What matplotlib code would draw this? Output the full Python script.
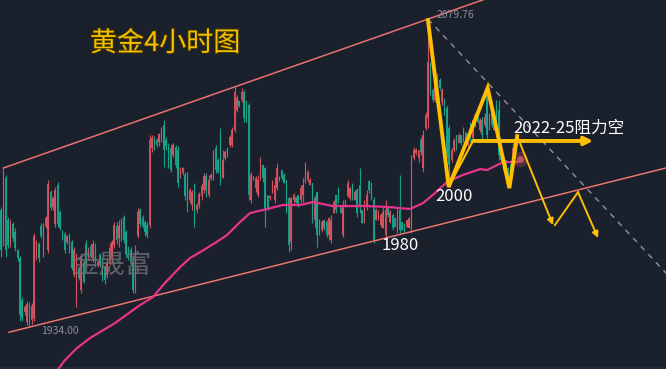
import numpy as np
import matplotlib.pyplot as plt
from matplotlib import patheffects as pe

plt.rcParams['font.family'] = ['Noto Sans CJK SC', 'DejaVu Sans']

# 4h gold candles (open / close / high / low)
opens = [
    1989.4, 1975.2, 2004.6, 1984.7, 1973.8, 1982.8, 1979.0, 1970.5, 1966.7, 1946.8,
    1941.1, 1936.4, 1944.4, 1937.3, 1938.3, 1967.6, 1973.3, 1981.8, 1968.6, 1981.8,
    1970.5, 1997.9, 1990.8, 1982.8, 2001.2, 1988.5, 1979.5, 1978.0, 1974.3, 1977.1,
    1974.3, 1958.6, 1946.8, 1962.0, 1951.5, 1964.8, 1973.3, 1966.7, 1972.4, 1965.7,
    1972.8, 1962.9, 1968.1,
    1965.7, 1962.4, 1958.6, 1964.8, 1966.7, 1972.8, 1981.8, 1976.2, 1983.7, 1986.1,
    1979.0, 1971.4, 1970.5, 1964.8, 1953.9, 1977.1, 1989.4, 1985.6, 1983.7, 1982.3,
    1982.3, 2018.8, 2023.5, 2022.5, 2021.6, 2023.5, 2029.6, 2022.5, 2020.2, 2018.8,
    2015.4, 2019.2, 2017.8, 2006.0, 2006.9, 2006.0, 2004.6, 1994.1, 1991.8, 1999.8,
    1989.4, 1991.8, 1996.0, 1998.9, 2005.5,
    1996.5, 2004.6, 2004.6, 2018.8, 2013.1, 2024.9, 2004.6, 2014.0, 2018.8, 2020.2,
    2020.2, 2027.3, 2036.7, 2041.0, 2041.5, 2045.3, 2040.5, 2039.1, 1994.1, 2004.6,
    1999.8, 1996.5, 2006.0, 2010.7, 2009.3, 1996.5, 1995.1, 1997.9, 1994.1, 1999.8,
    2003.6, 2008.3, 2006.0, 2003.6, 1995.1, 1974.3, 1994.1, 1995.6, 1996.5, 1994.1,
    1996.5, 2003.6, 2003.6, 2001.2, 2002.2, 1984.7, 1997.9, 1984.7,
    1979.9, 1984.7, 1983.7, 1977.6, 1975.2, 1988.0, 1996.5, 1999.8, 1990.8, 1977.6,
    1991.3, 1996.0, 1995.1, 2001.2, 1994.1, 1998.9, 2001.2, 1989.4, 1983.3, 1991.8,
    2003.1, 2002.2, 1994.1, 1984.7, 1984.7, 1982.3, 1980.9, 1977.6, 1990.4, 1983.7,
    1987.0, 1985.6, 1979.9, 1989.4, 1983.7, 1982.3, 1981.4, 1980.9, 1980.9, 2014.0,
    2016.4, 2014.0, 2022.5, 2009.3, 2028.2,
    2033.0, 2058.0, 2046.2, 2041.5, 2051.9, 2050.9, 2040.5, 2041.5, 2037.7, 2028.2,
    2013.1, 2017.8, 2024.9, 2021.1, 2024.9, 2022.5, 2026.3, 2020.2, 2029.6, 2023.5,
    2029.6, 2035.8, 2027.3, 2032.0, 2029.6, 2045.3, 2027.3, 2036.7, 2027.3, 2039.1,
    2036.7, 2020.2, 2013.1, 2013.1, 2009.3, 2010.7, 2009.3, 2015.4,
]
closes = [
    1970.5, 2007.4, 1970.5, 1972.8, 1983.7, 1976.2, 1971.4, 1966.7, 1939.7, 1938.3,
    1943.5, 1944.9, 1936.4, 1944.0, 1977.1, 1974.3, 1966.7, 1977.1, 1981.8, 1985.6,
    2001.7, 1990.4, 1995.1, 1998.9, 1982.8, 1980.9, 1976.2, 1970.5, 1977.1, 1970.0,
    1962.0, 1970.5, 1966.7, 1957.2, 1967.6, 1955.3, 1964.3, 1971.4, 1967.6, 1973.3,
    1964.3, 1964.8, 1963.4,
    1957.2, 1956.3, 1964.8, 1971.4, 1974.3, 1982.3, 1975.2, 1981.8, 1976.2, 1975.2,
    1968.6, 1966.7, 1964.8, 1951.5, 1970.5, 1988.5, 1982.8, 1981.8, 1979.0, 1977.6,
    2022.5, 2023.5, 2019.7, 2020.2, 2025.4, 2027.3, 2017.8, 2019.7, 2013.1, 2008.3,
    2020.2, 2010.7, 2002.2, 2009.3, 2009.3, 1996.0, 1990.4, 1998.9, 1997.9, 1983.7,
    1991.8, 1997.0, 2000.8, 2005.5, 1998.9,
    2003.6, 2006.0, 2015.4, 2008.3, 2007.4, 2003.6, 2013.1, 2016.9, 2015.4, 2024.0,
    2027.3, 2045.3, 2042.4, 2038.6, 2045.3, 2033.0, 2032.0, 1996.5, 2006.0, 2005.5,
    2004.6, 2003.6, 2013.1, 2004.6, 1989.4, 1990.4, 1996.0, 2002.7, 2001.2, 2009.3,
    2005.0, 2004.6, 2002.2, 1989.4, 1972.8, 1995.1, 1996.5, 1993.2, 1991.8, 1999.8,
    2001.2, 2009.3, 2007.4, 2003.6, 1987.0, 1995.1, 1977.6, 1978.5,
    1983.7, 1980.9, 1977.6, 1985.6, 1984.7, 1993.2, 1989.4, 1994.1, 1988.0, 1991.8,
    1994.1, 2002.2, 1999.8, 1995.1, 1997.9, 1988.0, 1991.8, 1983.3, 1991.8, 1996.5,
    1998.9, 1995.1, 1975.2, 1989.4, 1988.5, 1987.0, 1988.5, 1989.4, 1987.0, 1988.5,
    1980.9, 1981.4, 1988.5, 1979.9, 1979.9, 1979.0, 1984.7, 1985.6, 2014.0, 2017.8,
    2017.8, 2017.8, 2016.9, 2024.9, 2034.4,
    2059.5, 2045.3, 2041.5, 2048.6, 2043.8, 2047.1, 2046.2, 2035.8, 2015.4, 2010.7,
    2017.8, 2022.5, 2018.8, 2024.9, 2021.1, 2027.3, 2022.5, 2023.5, 2023.5, 2032.0,
    2034.4, 2031.1, 2032.0, 2024.9, 2033.4, 2024.9, 2033.0, 2029.6, 2034.4, 2027.3,
    2015.4, 2013.1, 2009.3, 2006.9, 2004.6, 2006.0, 2018.8, 2020.2,
]
highs = [
    1990.8, 2009.3, 2006.0, 1986.1, 1985.1, 1983.7, 1980.9, 1970.9, 1967.6, 1948.2,
    1944.4, 1946.3, 1945.9, 1945.4, 1978.5, 1975.2, 1974.3, 1983.3, 1983.3, 1986.6,
    2003.6, 1998.9, 1996.0, 2000.3, 2002.7, 1989.4, 1979.9, 1979.0, 1977.6, 1978.5,
    1975.2, 1971.9, 1969.1, 1962.4, 1969.1, 1965.7, 1975.2, 1971.9, 1973.8, 1975.2,
    1973.8, 1965.7, 1969.1,
    1966.7, 1963.4, 1966.7, 1973.8, 1975.2, 1983.7, 1983.7, 1984.7, 1985.6, 1987.0,
    1979.9, 1972.4, 1971.9, 1968.1, 1972.8, 1990.4, 1990.4, 1987.0, 1984.7, 1983.7,
    2024.9, 2024.9, 2024.4, 2023.5, 2025.9, 2028.7, 2032.0, 2024.0, 2021.1, 2020.6,
    2021.1, 2020.2, 2019.7, 2009.8, 2009.8, 2007.4, 2007.4, 1999.8, 1998.9, 2002.2,
    1992.7, 1997.9, 2002.2, 2006.9, 2006.9,
    2006.0, 2006.9, 2017.8, 2020.2, 2014.0, 2028.2, 2017.8, 2017.8, 2019.2, 2024.9,
    2028.7, 2047.6, 2043.8, 2041.5, 2047.1, 2046.2, 2041.5, 2040.1, 2007.4, 2005.5,
    2005.5, 2006.0, 2014.5, 2010.7, 2009.8, 1996.5, 1996.5, 2003.6, 2005.0, 2011.7,
    2005.5, 2008.3, 2006.9, 2003.6, 1995.6, 1995.6, 1997.5, 1995.6, 1996.5, 2001.2,
    2004.6, 2012.1, 2008.3, 2004.6, 2002.2, 1996.5, 1997.9, 1985.1,
    1984.7, 1984.7, 1984.7, 1986.1, 1987.0, 1994.1, 1996.5, 2000.3, 1990.8, 1994.1,
    1994.1, 2003.6, 2000.3, 2002.2, 1998.9, 1999.8, 2009.3, 1989.4, 1994.1, 1998.9,
    2003.6, 2002.7, 1995.6, 1990.4, 1989.4, 1988.0, 1990.8, 1994.1, 1990.4, 1989.4,
    1988.0, 1986.1, 1990.4, 2006.0, 1983.7, 1983.3, 1984.7, 1986.1, 2015.4, 2019.2,
    2018.8, 2017.8, 2024.0, 2027.3, 2035.8,
    2079.76, 2059.5, 2047.1, 2050.0, 2054.2, 2051.9, 2047.1, 2042.4, 2039.1, 2029.6,
    2018.8, 2023.5, 2024.9, 2025.9, 2024.9, 2028.7, 2026.3, 2024.0, 2031.1, 2033.0,
    2035.3, 2036.7, 2033.0, 2033.4, 2035.3, 2047.6, 2035.3, 2038.2, 2036.7, 2041.5,
    2041.5, 2021.1, 2013.1, 2013.1, 2009.8, 2011.7, 2021.1, 2021.1,
]
lows = [
    1967.2, 1972.4, 1967.2, 1971.4, 1971.9, 1974.7, 1970.0, 1965.3, 1936.9, 1936.9,
    1939.7, 1935.0, 1934.0, 1935.5, 1936.9, 1965.7, 1964.8, 1976.2, 1967.2, 1980.9,
    1969.1, 1989.4, 1989.4, 1981.4, 1981.4, 1979.9, 1975.2, 1969.1, 1973.3, 1969.1,
    1961.0, 1957.7, 1943.5, 1956.3, 1950.1, 1954.9, 1962.4, 1965.7, 1967.2, 1964.8,
    1962.4, 1962.4, 1962.4,
    1955.8, 1954.4, 1957.2, 1963.4, 1964.3, 1971.4, 1973.3, 1971.9, 1974.7, 1973.8,
    1967.2, 1965.7, 1963.4, 1950.1, 1950.1, 1976.2, 1981.4, 1980.9, 1977.1, 1976.2,
    1980.9, 2016.9, 2017.8, 2019.2, 2019.7, 2021.6, 2009.8, 2017.8, 2009.3, 2007.4,
    2014.5, 2009.3, 2000.3, 2004.6, 2006.0, 1994.1, 1988.5, 1992.7, 1989.4, 1981.4,
    1988.0, 1990.4, 1994.1, 1997.5, 1995.6,
    1995.6, 2003.6, 2003.6, 2006.9, 2006.9, 2001.2, 2004.6, 2013.1, 2014.5, 2019.2,
    2019.2, 2026.3, 2035.8, 2038.2, 2040.5, 2031.1, 2031.1, 1994.1, 1992.7, 2003.6,
    1997.9, 1995.6, 2003.6, 2002.7, 1981.4, 1989.4, 1994.1, 1997.5, 1992.7, 1998.9,
    2003.1, 2003.6, 2002.2, 1988.0, 1969.5, 1970.5, 1992.7, 1992.7, 1990.8, 1992.7,
    1993.2, 2002.2, 2002.7, 2001.2, 1983.3, 1981.4, 1971.9, 1977.6,
    1979.0, 1979.9, 1976.6, 1975.2, 1973.8, 1988.0, 1988.0, 1992.7, 1988.0, 1976.6,
    1990.8, 1995.6, 1994.1, 1994.1, 1994.1, 1986.1, 1988.0, 1983.3, 1983.3, 1989.4,
    1997.5, 1994.1, 1973.8, 1984.7, 1984.7, 1981.4, 1980.9, 1976.6, 1986.1, 1983.3,
    1979.9, 1981.4, 1978.5, 1978.5, 1979.9, 1979.0, 1981.4, 1980.9, 1978.5, 2013.1,
    2015.4, 2012.1, 2015.4, 2007.4, 2027.3,
    2028.2, 2043.8, 2040.5, 2040.5, 2042.4, 2046.2, 2039.1, 2034.4, 2014.0, 2004.6,
    2012.1, 2016.9, 2017.8, 2021.1, 2020.2, 2021.6, 2021.6, 2019.2, 2021.6, 2022.5,
    2028.7, 2030.6, 2026.3, 2022.5, 2028.7, 2022.5, 2027.3, 2028.7, 2027.3, 2024.0,
    2013.1, 2011.7, 2008.3, 2006.0, 2003.6, 2005.0, 2008.3, 2014.5,
]

# moving average line, vertices (bar index, price)
ma_idx = [23.3, 27.1, 32.2, 37.7, 42.0, 48.3, 56.0, 58.9, 64.4, 69.5, 75.9, 80.1,
          84.4, 90.7, 95.8, 101.3, 105.6, 112.8, 119.5, 126.8, 132.3, 140.7, 154.7,
          164.9, 173.4, 178.9, 184.0, 189.1, 195.8, 203.1, 206.0, 212.8, 218.7]
ma_val = [1912.7, 1918.4, 1924.1, 1928.8, 1931.7, 1935.9, 1942.1, 1944.4, 1948.2,
          1954.9, 1962.4, 1966.7, 1969.5, 1973.8, 1977.6, 1983.7, 1988.0, 1989.9,
          1991.8, 1991.8, 1993.2, 1991.3, 1991.3, 1990.8, 1989.9, 1992.7, 1997.5,
          2002.7, 2006.0, 2008.8, 2008.3, 2012.1, 2012.1]

# hand drawn analysis (bar index, price)
zig_idx = [181, 189.8, 206.3, 215.5, 218.8]
zig_val = [2079.3, 2000.3, 2047.2, 1999.8, 2024.4]
down_idx = [218.8, 234.0]
down_val = [2024.4, 1982.3]
bounce_idx = [234.8, 244.6, 253.1]
bounce_val = [1982.3, 1997.9, 1976.2]
resist = 2022.1

BG = '#1b202d'
RED = '#dc5560'
GREEN = '#17a98f'
YEL = '#ffbe00'

o = np.array(opens); c = np.array(closes)
h = np.array(highs); l = np.array(lows)
x = np.arange(len(c))
col = np.where(c >= o, RED, GREEN)

fig = plt.figure(figsize=(6.66, 3.69), dpi=100)
fig.patch.set_facecolor(BG)
ax = fig.add_axes([0, 0, 1, 1])
ax.set_facecolor(BG)
ax.set_xlim(-0.42, 281.9)
ax.set_ylim(1914.2, 2088.8)
ax.axis('off')
ax.axhspan(1914.2, 1915.3, color='#232936', lw=0, zorder=1)

ax.text(30.1, 1963.1, '金晟富', fontsize=19, color='#6a6d72', alpha=0.85,
        va='center', ha='left', zorder=5)

ax.vlines(x, l, h, colors=col, linewidth=0.85, alpha=0.9, zorder=2)
body = np.maximum(np.abs(c - o), 0.4)
ax.bar(x, body, bottom=np.minimum(o, c), width=0.65, color=col,
       linewidth=0, alpha=0.9, zorder=3)


def ray(x1, y1, x2, y2, x_end):
    k = (y2 - y1) / (x2 - x1)
    return [x1, x_end], [y1, y1 + k * (x_end - x1)]


# channel
ux, uy = ray(1, h[1], 181, h[181], 282)
ax.plot(ux, uy, color='#e8736e', lw=1.1, zorder=4)
lx, ly = ray(3.4, l[12] - 0.2791 * 8.6, 12, l[12], 282)
ax.plot(lx, ly, color='#e8736e', lw=1.1, zorder=4)
dx, dy = ray(181, h[181], 281, h[181] - 119.1, 282)
ax.plot(dx, dy, color='#8e939b', lw=1, ls=(0, (4, 4)), zorder=4)

ax.plot(ma_idx, ma_val, color='#e8338a', lw=1.6, zorder=4)
ax.scatter([220], [2013.5], s=120, color='#ff5a6e', alpha=0.25, lw=0, zorder=4)
ax.scatter([220], [2013.5], s=25, color='#ff6f7d', alpha=0.6, lw=0, zorder=4)

# yellow path
ax.plot(zig_idx, zig_val, color=YEL, lw=2.8, solid_joinstyle='miter', zorder=6)
ax.plot([190.3, 200.1], [2001.7, resist], color=YEL, lw=1.5, zorder=6)
ax.annotate('', xy=(251, resist), xytext=(200.1, resist),
            arrowprops=dict(arrowstyle='-|>', lw=2.8, color=YEL, mutation_scale=12,
                            shrinkA=0, shrinkB=0), zorder=6)
ax.annotate('', xy=(down_idx[1], down_val[1]), xytext=(down_idx[0], down_val[0]),
            arrowprops=dict(arrowstyle='-|>', lw=1.4, color=YEL, mutation_scale=9,
                            shrinkA=0, shrinkB=0), zorder=6)
ax.plot(bounce_idx[:2], bounce_val[:2], color=YEL, lw=1.4, zorder=6)
ax.annotate('', xy=(bounce_idx[2], bounce_val[2]), xytext=(bounce_idx[1], bounce_val[1]),
            arrowprops=dict(arrowstyle='-|>', lw=1.4, color=YEL, mutation_scale=9,
                            shrinkA=0, shrinkB=0), zorder=6)

# labels
ax.text(184.6, 2081.7, '2079.76', fontsize=7.5, color='#8b9099', va='center', zorder=7)
ax.text(16.9, 1932.1, '1934.00', fontsize=7.5, color='#8b9099', va='center', zorder=7)
ax.text(161.1, 1972.4, '1980', fontsize=12, color='white', va='center', zorder=7)
ax.text(184.0, 1995.8, '2000', fontsize=12, color='white', va='center', zorder=7)
ax.text(217.0, 2028.0, '2022-25阻力空', fontsize=12, color='white', va='center', zorder=7)
ax.text(37.7, 2068.2, '黄金4小时图', fontsize=19.5, color='#f5c000', va='center', zorder=7,
        path_effects=[pe.withStroke(linewidth=1.5, foreground='#3a3000')])

fig.savefig('out.png', dpi=100, facecolor=BG)
